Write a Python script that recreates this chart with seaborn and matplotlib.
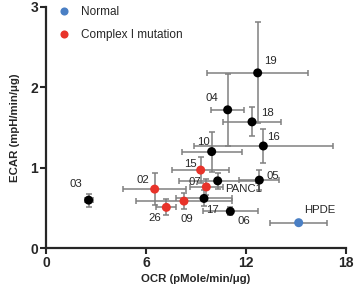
import numpy as np
import pandas as pd
import seaborn as sns
import matplotlib.pyplot as plt

labels = ["19", "04", "18", "16", "10", "15", "05", "PANC1", "07",
          "02", "03", "09", "17", "06", "26", "HPDE"]
ocr = [12.7, 10.9, 12.36, 13.04, 9.94, 9.28, 12.8, 10.3, 9.62,
       6.52, 2.56, 8.28, 9.48, 11.06, 7.22, 15.16]
ecar = [2.18, 1.72, 1.57, 1.27, 1.20, 0.97, 0.845, 0.836, 0.76,
        0.733, 0.596, 0.584, 0.617, 0.456, 0.506, 0.315]
ocr_err = [3.05, 1.0, 1.74, 4.16, 1.8, 1.73, 1.2, 2.3, 1.0,
           1.9, 0.25, 2.9, 1.65, 1.64, 0.6, 1.7]
ecar_err = [0.63, 0.45, 0.18, 0.21, 0.25, 0.16, 0.12, 0.1, 0.1,
            0.195, 0.08, 0.1, 0.1, 0.05, 0.1, 0.02]
group = ["Other", "Other", "Other", "Other", "Other", "Complex I mutation", "Other", "Other",
         "Complex I mutation", "Complex I mutation", "Other", "Complex I mutation", "Other",
         "Other", "Complex I mutation", "Normal"]
# label offsets in pixels (dx, dy, ha)
offsets = [(6, 12, "left"), (-9, 12, "right"), (9, 9, "left"), (4, 9, "left"),
           (-8, 10, "center"), (-4, 6, "right"), (7, 4, "left"), (7, -8, "left"),
           (-5, 5, "right"), (-5, 9, "right"), (-6, 16, "right"), (3, -18, "center"),
           (2, -12, "left"), (7, -10, "left"), (-12, -11, "center"), (5, 13, "left")]

df = pd.DataFrame({"label": labels, "ocr": ocr, "ecar": ecar, "group": group})

sns.set_style("ticks")
plt.rcParams["font.family"] = ["Liberation Sans", "DejaVu Sans"]

fig = plt.figure(figsize=(3.55, 2.97), dpi=100)
ax = fig.add_axes([46 / 355, 49 / 297, 300 / 355, 241 / 297])

ax.errorbar(ocr, ecar, xerr=ocr_err, yerr=ecar_err, fmt="none", ecolor="#808080",
            elinewidth=1.1, capsize=2.5, capthick=1.1, zorder=1)
sns.scatterplot(data=df, x="ocr", y="ecar", hue="group", ax=ax, s=42, linewidth=0,
                palette={"Normal": "#4a7fc4", "Complex I mutation": "#e8332a", "Other": "black"},
                hue_order=["Normal", "Complex I mutation", "Other"], zorder=3)

for lab, x, y, (dx, dy, ha) in zip(labels, ocr, ecar, offsets):
    ax.annotate(lab, (x, y), xytext=(dx, dy), textcoords="offset pixels",
                ha=ha, va="center", fontsize=8.2)

handles, labs = ax.get_legend_handles_labels()
keep = [i for i, l in enumerate(labs) if l in ("Normal", "Complex I mutation")]
ax.legend([handles[i] for i in keep], [labs[i] for i in keep], loc="upper left",
          frameon=False, fontsize=8.5, handletextpad=0.5, borderaxespad=0.1,
          bbox_to_anchor=(0.0, 1.03), labelspacing=0.95, markerscale=0.9)

ax.set_xlim(0, 18)
ax.set_ylim(0, 3)
ax.set_xticks([0, 6, 12, 18])
ax.set_yticks([0, 1, 2, 3])
ax.set_xlabel("OCR (pMole/min/\u03bcg)", fontsize=8.2, fontweight="bold", labelpad=3)
ax.set_ylabel("ECAR (mpH/min/\u03bcg)", fontsize=8.2, fontweight="bold", labelpad=8)
for t in ax.get_xticklabels() + ax.get_yticklabels():
    t.set_fontweight("bold")
ax.tick_params(labelsize=10, width=1.5, length=4, pad=1.5)
sns.despine(ax=ax)
for s in ["left", "bottom"]:
    ax.spines[s].set_linewidth(1.6)

fig.savefig("out.png", dpi=100)
